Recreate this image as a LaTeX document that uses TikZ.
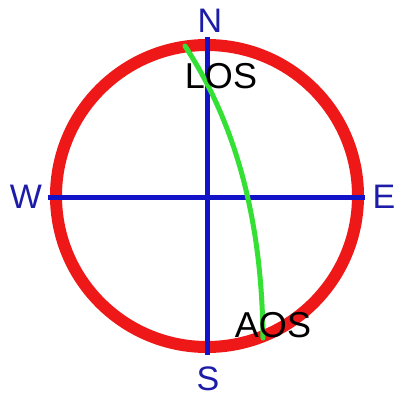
\documentclass[tikz,border=0pt]{standalone}
\usepackage{fontspec}
\setmainfont{Liberation Sans}
\usetikzlibrary{positioning}
\definecolor{ring}{HTML}{EE1818}
\definecolor{axis}{HTML}{1212C8}
\definecolor{compass}{HTML}{1C1CA8}
\definecolor{track}{HTML}{33E033}

\begin{document}
\begin{tikzpicture}[x=1pt, y=-1pt,
  dir/.style={text=compass, font=\fontsize{34}{34}\selectfont, inner sep=0pt},
  pass/.style={text=black, font=\fontsize{36}{36}\selectfont, inner sep=0pt},
  axisline/.style={draw=axis, line width=5pt},
  horizon/.style={draw=ring, line width=12pt},
  path/.style={draw=track, line width=5pt, line cap=round}
]
  \useasboundingbox (0,0) rectangle (395,397);
  % sky horizon
  \draw[horizon] (207,196) circle (151);
  % axes
  \coordinate (ntop) at (207,37);
  \coordinate (sbot) at (207,355);
  \coordinate (wend) at (48,197);
  \coordinate (eend) at (365,197);
  \draw[axisline] (ntop) -- (sbot);
  \draw[axisline] (wend) -- (eend);
  % pass track
  \coordinate (los) at (185,46);
  \coordinate (aos) at (263,338);
  \draw[path] (los) .. controls (240,130) and (262,230) .. (aos);
  % labels
  \node[dir] (n) at (210,21) {N};
  \node[dir] (w) at (26,197) {W};
  \node[dir] (e) at (384,197) {E};
  \node[dir] (s) at (208,379) {S};
  \node[pass] (loslabel) at (221,76) {LOS};
  \node[pass] (aoslabel) at (273,325) {AOS};
\end{tikzpicture}
\end{document}
